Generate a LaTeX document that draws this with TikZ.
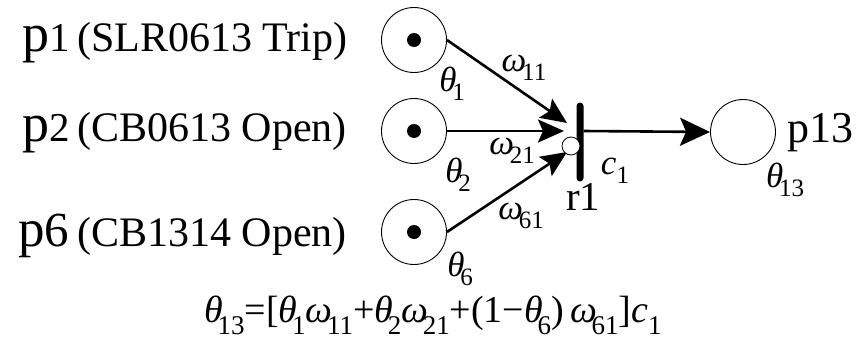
\documentclass[tikz,border=0pt]{standalone}
\usepackage{fontspec}
\IfFontExistsTF{LiberationSerif-Regular.ttf}{%
  \setmainfont{LiberationSerif}[Extension=.ttf,UprightFont=*-Regular,ItalicFont=*-Italic,BoldFont=*-Bold,BoldItalicFont=*-BoldItalic]}{%
  \setmainfont{Liberation Serif}}
\usetikzlibrary{arrows.meta}
\newcommand\fs[1]{\fontsize{#1}{#1}\selectfont}
% label: glyph 35px, subscript 25px
\newcommand\G[2]{{\itshape #1}\kern-0.12em\raisebox{-0.25em}{\fontsize{25}{25}\selectfont #2}}
% formula: glyph 38px, subscript 27px
\newcommand\Gb[2]{{\itshape #1}\kern-0.14em\raisebox{-0.33em}{\fontsize{27}{27}\selectfont #2}}
\newcommand\Gc[2]{{\itshape #1}\raisebox{-0.33em}{\fontsize{27}{27}\selectfont #2}}
\begin{document}
\begin{tikzpicture}[x=1pt,y=-1pt,
  place/.style={circle,draw,line width=0.9pt,minimum size=65pt,inner sep=0pt},
  token/.style={circle,fill=black,minimum size=14pt,inner sep=0pt},
  arc/.style={line width=2.6pt,-{Stealth[length=26pt,width=23pt,inset=5pt]}},
  outarc/.style={line width=2.6pt,-{Stealth[length=30pt,width=28pt,inset=6pt]}},
  glab/.style={inner sep=0pt,font=\fs{35}},
  tlab/.style={inner sep=0pt,anchor=base west}]
\useasboundingbox (0,0) rectangle (859,343);
% places
\node[place] (p1) at (414,40) {};
\node[token] (k1) at (p1) {};
\node[place] (p2) at (414,131) {};
\node[token] (k2) at (p2) {};
\node[place] (p6) at (414,232) {};
\node[token] (k6) at (p6) {};
\node[place] (p13) at (743,132) {};
% transition
\node[fill=black,minimum width=7pt,minimum height=79pt,inner sep=0pt,rounded corners=3.5pt] (r1) at (580,142) {};
\coordinate (a1) at (567,123);
\coordinate (a2) at (564,131);
\coordinate (a6) at (567,152);
\draw[arc] (p1.east) -- (a1);
\draw[arc] (p2.east) -- (a2);
\draw[arc] (p6.east) -- (a6);
\node[circle,draw,fill=white,minimum size=18pt,inner sep=0pt,line width=0.8pt] (j) at (571,146) {};
\draw[outarc] (r1.east |- p2.east) -- (p13.west);
% left texts
\node[tlab] (n1) at (22,51) {\fs{54}p\fs{41}1};
\node[tlab] (d1) at (77,51) {\fs{42}(SLR0613 Trip)};
\node[tlab] (n2) at (22,141) {\fs{54}p\fs{41}2};
\node[tlab] (d2) at (77,141) {\fs{42}(CB0613 Open)};
\node[tlab] (n6) at (18,246) {\fs{53}p\fs{49}6};
\node[tlab] (d6) at (77,246) {\fs{42}(CB1314 Open)};
% math labels
\node[glab] (th1) at (452,84) {\G{θ}{1}};
\node[glab] (w11) at (524,68) {\G{ω}{11}};
\node[glab] (th2) at (458,175) {\G{θ}{2}};
\node[glab] (w21) at (512,151) {\G{ω}{21}};
\node[glab] (w61) at (521,216) {\G{ω}{61}};
\node[glab] (th6) at (460,269) {\G{θ}{6}};
\node[glab] (c1) at (615,171) {{\itshape c}\raisebox{-0.25em}{\fs{25}1}};
\node[glab] (th13) at (785,180) {\G{θ}{13}};
\node[tlab] (r1l) at (566,210) {\fs{41}r1};
\node[tlab] (p13l) at (787,142) {\fs{44}p13};
% formula
\node[inner sep=0pt,anchor=base,font=\fs{38}] (eq) at (433,322) {\Gb{θ}{13}=[\Gb{θ}{1}\Gb{ω}{11}+\Gb{θ}{2}\Gb{ω}{21}+(1−\Gb{θ}{6})\,\Gb{ω}{61}]\Gc{c}{1}};
\end{tikzpicture}
\end{document}
